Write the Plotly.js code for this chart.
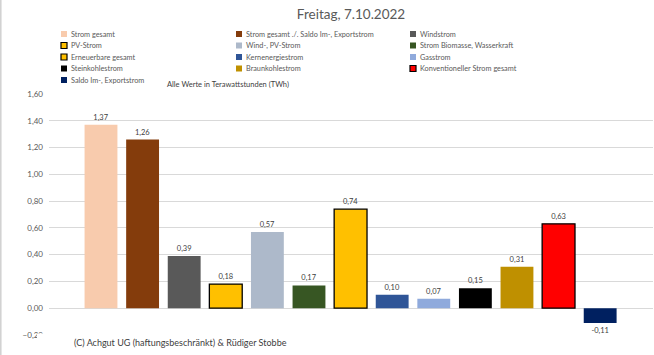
<!DOCTYPE html>
<html><head><meta charset="utf-8">
<script src="https://cdn.plot.ly/plotly-3.0.1.min.js"></script>
<style>html,body{margin:0;padding:0;background:#fff}#chart{width:654px;height:355px}</style>
</head><body><div id="chart"></div>
<script>
const categories = ["Strom gesamt","Strom gesamt ./. Saldo Im-, Exportstrom","Windstrom","PV-Strom","Wind-, PV-Strom","Strom Biomasse, Wasserkraft","Erneuerbare gesamt","Kernenergiestrom","Gasstrom","Steinkohlestrom","Braunkohlestrom","Konventioneller Strom gesamt","Saldo Im-, Exportstrom"];
const values = [1.37,1.26,0.39,0.18,0.57,0.17,0.74,0.10,0.07,0.15,0.31,0.63,-0.11];
const colors = ["#F8CBAD","#843C0C","#595959","#FFC000","#ADB9CA","#375623","#FFC000","#2F5597","#8FAADC","#000000","#BF9000","#FF0000","#002060"];
const outlined = [false,false,false,true,false,false,true,false,false,false,false,true,false];
const titleText = "Freitag, 7.10.2022";
const subtitleText = "Alle Werte in Terawattstunden (TWh)";
const creditText = "(C) Achgut UG (haftungsbeschränkt) & Rüdiger Stobbe";

const W = 654, H = 355;
const L = 49, R = 1, T = 94, B = 20;
const pw = W - L - R, ph = H - T - B;
const px = x => (x - L) / pw;
const py = y => (H - B - y) / ph;
const FONT = "Lato, 'Open Sans', sans-serif";

const shapes = [];
const annotations = [];
// legend (manual, 3 columns)
const colMarker = [61, 236, 410];
categories.forEach((name, i) => {
  const row = Math.floor(i / 3), col = i % 3;
  const cy = 34 + row * 11.5;
  const x0 = colMarker[col];
  shapes.push({type:"rect", xref:"paper", yref:"paper", x0:px(x0), x1:px(x0+6), y0:py(cy+3), y1:py(cy-3),
    fillcolor:colors[i], line:{color: outlined[i] ? "#000" : colors[i], width: outlined[i] ? 1.2 : 0}, layer:"above"});
  annotations.push({xref:"paper", yref:"paper", x:px(x0+7.5), y:py(cy), xanchor:"left", yanchor:"middle",
    text:name, showarrow:false, font:{family:FONT, size:7.3, color:"#595959"}});
});
annotations.push({xref:"paper", yref:"paper", x:px(228), y:py(85), xanchor:"center", yanchor:"middle",
  text:subtitleText, showarrow:false, font:{family:FONT, size:7.5, color:"#404040"}});
// white box under the credit text
shapes.push({type:"rect", xref:"paper", yref:"paper", x0:px(37), x1:px(381), y0:py(355), y1:py(333.5),
  fillcolor:"#fff", line:{width:0}, layer:"above"});
annotations.push({xref:"paper", yref:"paper", x:px(72), y:py(342), xanchor:"left", yanchor:"middle",
  text:creditText, showarrow:false, font:{family:FONT, size:9, color:"#404040"}});
// left border
shapes.push({type:"line", xref:"paper", yref:"paper", x0:px(0.8), x1:px(0.8), y0:py(0), y1:py(355),
  line:{color:"#d0d0d0", width:1.5}});

const trace = {
  type:"bar", x:categories, y:values, width:0.79,
  marker:{color:colors, line:{color:"#000", width: outlined.map(o => o ? 1.3 : 0)}},
  texttemplate:"%{y:.2f}", textposition:"outside", cliponaxis:false,
  textfont:{family:FONT, size:7.5, color:"#404040"},
  hoverinfo:"skip"
};

const layout = {
  width:W, height:H, margin:{l:L, r:R, t:T, b:B},
  paper_bgcolor:"#fff", plot_bgcolor:"#fff",
  separators:",.",
  showlegend:false,
  title:{text:titleText, x:0.5, xref:"paper", xanchor:"center", y:1 - 14/H, yanchor:"middle",
    font:{family:FONT, size:13.5, color:"#595959"}},
  xaxis:{type:"category", range:[-1.25, 13.27], showticklabels:false, showgrid:false, zeroline:false, showline:false, fixedrange:true},
  yaxis:{range:[-0.2, 1.6], dtick:0.2, tick0:0, tickformat:".2f", showgrid:true, gridcolor:"#d9d9d9", gridwidth:1,
    zeroline:true, zerolinecolor:"#d9d9d9", zerolinewidth:1, showline:false, ticks:"", ticklabelstandoff:5,
    tickfont:{family:FONT, size:8, color:"#595959"}, fixedrange:true},
  shapes:shapes, annotations:annotations, bargap:0.21
};
Plotly.newPlot("chart", [trace], layout, {displayModeBar:false, staticPlot:true});
</script></body></html>
